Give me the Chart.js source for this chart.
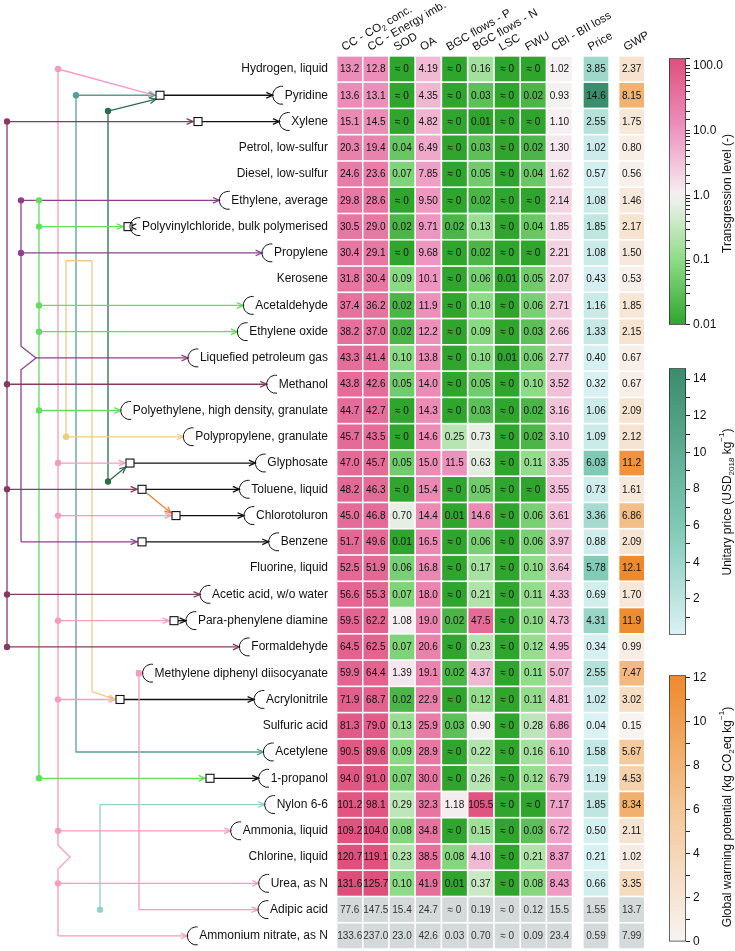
<!DOCTYPE html>
<html>
<head>
<meta charset="utf-8">
<script src="https://cdn.jsdelivr.net/npm/chart.js@4.4.1/dist/chart.umd.min.js"></script>
<style>
  body { margin: 0; background: #fff; }
  #wrap { position: relative; width: 735px; height: 951px; }
  canvas { position: absolute; }
</style>
</head>
<body>
<div id="wrap">
  <canvas id="main" width="735" height="951" style="left:0;top:0"></canvas>
  <canvas id="cbT"></canvas>
  <canvas id="cbP"></canvas>
  <canvas id="cbG"></canvas>
</div>
<script>
// data (0 means "≈ 0")
const products = ['Hydrogen, liquid', 'Pyridine', 'Xylene', 'Petrol, low-sulfur', 'Diesel, low-sulfur',
  'Ethylene, average', 'Polyvinylchloride, bulk polymerised', 'Propylene', 'Kerosene', 'Acetaldehyde',
  'Ethylene oxide', 'Liquefied petroleum gas', 'Methanol', 'Polyethylene, high density, granulate',
  'Polypropylene, granulate', 'Glyphosate', 'Toluene, liquid', 'Chlorotoluron', 'Benzene', 'Fluorine, liquid',
  'Acetic acid, w/o water', 'Para-phenylene diamine', 'Formaldehyde', 'Methylene diphenyl diisocyanate',
  'Acrylonitrile', 'Sulfuric acid', 'Acetylene', '1-propanol', 'Nylon 6-6', 'Ammonia, liquid',
  'Chlorine, liquid', 'Urea, as N', 'Adipic acid', 'Ammonium nitrate, as N']
const columns = ['CC - CO₂ conc.', 'CC - Energy imb.', 'SOD', 'OA', 'BGC flows - P', 'BGC flows - N',
  'LSC', 'FWU', 'CBI - BII loss', 'Price', 'GWP']

const ccCO2 = [13.2, 13.6, 15.1, 20.3, 24.6, 29.8, 30.5, 30.4, 31.8, 37.4, 38.2, 43.3, 43.8, 44.7, 45.7, 47.0,
  48.2, 45.0, 51.7, 52.5, 56.6, 59.5, 64.5, 59.9, 71.9, 81.3, 90.5, 94.0, 101.2, 109.2, 120.7, 131.6, 77.6, 133.6]
const ccEnergy = [12.8, 13.1, 14.5, 19.4, 23.6, 28.6, 29.0, 29.1, 30.4, 36.2, 37.0, 41.4, 42.6, 42.7, 43.5, 45.7,
  46.3, 46.8, 49.6, 51.9, 55.3, 62.2, 62.5, 64.4, 68.7, 79.0, 89.6, 91.0, 98.1, 104.0, 119.1, 125.7, 147.5, 237.0]
const sod = [0, 0, 0, 0.04, 0.07, 0, 0.02, 0, 0.09, 0.02, 0.02, 0.10, 0.05, 0, 0, 0.05,
  0, 0.70, 0.01, 0.06, 0.07, 1.08, 0.07, 1.39, 0.02, 0.13, 0.09, 0.07, 0.29, 0.08, 0.23, 0.10, 15.4, 23.0]
const oa = [4.19, 4.35, 4.82, 6.49, 7.85, 9.50, 9.71, 9.68, 10.1, 11.9, 12.2, 13.8, 14.0, 14.3, 14.6, 15.0,
  15.4, 14.4, 16.5, 16.8, 18.0, 19.0, 20.6, 19.1, 22.9, 25.9, 28.9, 30.0, 32.3, 34.8, 38.5, 41.9, 24.7, 42.6]
const bgcP = [0, 0, 0, 0, 0, 0, 0.02, 0, 0, 0, 0, 0, 0, 0, 0.25, 11.5,
  0, 0.01, 0, 0, 0, 0.02, 0, 0.02, 0, 0.03, 0, 0, 1.18, 0, 0.08, 0.01, 0, 0.03]
const bgcN = [0.16, 0.03, 0.01, 0.03, 0.05, 0.02, 0.13, 0.02, 0.06, 0.10, 0.09, 0.10, 0.05, 0.03, 0.73, 0.63,
  0.05, 14.6, 0.06, 0.17, 0.21, 47.5, 0.23, 4.37, 0.12, 0.90, 0.22, 0.26, 105.5, 0.15, 4.10, 0.37, 0.19, 0.70]
const lsc = [0, 0, 0, 0, 0, 0, 0, 0, 0.01, 0, 0, 0.01, 0, 0, 0, 0,
  0, 0, 0, 0, 0, 0, 0, 0, 0, 0, 0, 0, 0, 0, 0, 0, 0, 0]
const fwu = [0, 0.02, 0, 0.02, 0.04, 0, 0.04, 0, 0.05, 0.06, 0.03, 0.06, 0.10, 0.02, 0.02, 0.11,
  0, 0.06, 0.06, 0.10, 0.11, 0.10, 0.12, 0.11, 0.11, 0.28, 0.16, 0.12, 0, 0.03, 0.21, 0.08, 0.12, 0.09]
const cbi = [1.02, 0.93, 1.10, 1.30, 1.62, 2.14, 1.85, 2.21, 2.07, 2.71, 2.66, 2.77, 3.52, 3.16, 3.10, 3.35,
  3.55, 3.61, 3.97, 3.64, 4.33, 4.73, 4.95, 5.07, 4.81, 6.86, 6.10, 6.79, 7.17, 6.72, 8.37, 8.43, 15.5, 23.4]
const price = [3.85, 14.6, 2.55, 1.02, 0.57, 1.08, 1.85, 1.08, 0.43, 1.16, 1.33, 0.40, 0.32, 1.06, 1.09, 6.03,
  0.73, 3.36, 0.88, 5.78, 0.69, 4.31, 0.34, 2.55, 1.02, 0.04, 1.58, 1.19, 1.85, 0.50, 0.21, 0.66, 1.55, 0.59]
const gwp = [2.37, 8.15, 1.75, 0.80, 0.56, 1.46, 2.17, 1.50, 0.53, 1.85, 2.15, 0.67, 0.67, 2.09, 2.12, 11.2,
  1.61, 6.86, 2.09, 12.1, 1.70, 11.9, 0.99, 7.47, 3.02, 0.15, 5.67, 4.53, 8.34, 2.11, 1.02, 3.35, 13.7, 7.99]
const greyRows = ['Adipic acid', 'Ammonium nitrate, as N']

const transTicks = [0.01, 0.1, 1, 10, 100]
const priceTicks = [2, 4, 6, 8, 10, 12, 14]
const gwpTicks = [0, 2, 4, 6, 8, 10, 12]

const boundaryCols = [ccCO2, ccEnergy, sod, oa, bgcP, bgcN, lsc, fwu, cbi]

// layout
const FONT = '"Liberation Sans", Arial, sans-serif'
const colX = [349.7, 375.8, 402, 428.2, 454.5, 480.8, 507.1, 533.3, 559.4, 596, 631.7]
const cellW = 24
const labelRight = 328
const ringR = 9

// colour maps
function hex(h) { return [1, 3, 5].map(i => parseInt(h.slice(i, i + 2), 16)) }
function ramp(stops, t) {
  t = Math.max(0, Math.min(1, t))
  for (let i = 1; i < stops.length; i++) {
    if (t <= stops[i][0]) {
      const [t0, c0] = stops[i - 1], [t1, c1] = stops[i]
      const f = (t - t0) / (t1 - t0), a = hex(c0), b = hex(c1)
      return 'rgb(' + a.map((v, k) => Math.round(v + (b[k] - v) * f)).join(',') + ')'
    }
  }
  return stops[stops.length - 1][1]
}
const keep = (v, i) => !greyRows.includes(products[i])
const transMin = 0.01
const transMax = Math.max(...boundaryCols.map(c => Math.max(...c.filter(keep))))
const lMin = Math.log10(transMin), lMax = Math.log10(transMax)
const lt = l => (l - lMin) / (lMax - lMin)
const transStops = [[0, '#2fa52d'], [lt(-1), '#8edb87'], [lt(0), '#f6f3f4'], [lt(1), '#ed95c0'], [1, '#df4e7b']]
const transColor = v => ramp(transStops, lt(Math.log10(Math.max(v, transMin))))
const priceMin = Math.min(...price.filter(keep))
const priceMax = Math.max(...price.filter(keep))
const priceStops = [[0, '#dbf2f4'], [0.4, '#80cab6'], [1, '#3a8d6d']]
const priceColor = v => ramp(priceStops, (v - priceMin) / (priceMax - priceMin))
const gwpMax = Math.max(...gwp.filter(keep))
const gwpStops = [[0, '#f7f4f2'], [0.5, '#f4c797'], [1, '#ee8a2c']]
const gwpColor = v => ramp(gwpStops, v / gwpMax)

function fmt(v) { return v === 0 ? '≈ 0' : (v >= 10 ? v.toFixed(1) : v.toFixed(2)) }

// supply network: x = lane position, y = row index; 'L' = ring in front of that row's label
const C = { pink: '#f59bbf', teal: '#55a096', lteal: '#93d3c7', dgreen: '#2e6a4e', purple: '#8d3f8d',
  maroon: '#873a5f', lgreen: '#62dd5e', tan: '#eecb85', orange: '#f07f3c', black: '#111' }
const boxes = { 1: 160, 2: 198, 6: 128, 15: 130, 16: 142, 17: 176, 18: 142, 21: 174, 24: 120, 27: 210 }
const B = r => boxes[r] - 5
const links = [
  { c: C.maroon, p: [[7, 2], [7, 22]] },
  { c: C.maroon, p: [[7, 2], [B(2), 2]], arrow: true },
  { c: C.maroon, p: [[7, 12], ['L', 12]], arrow: true },
  { c: C.maroon, p: [[7, 16], [B(16), 16]], arrow: true },
  { c: C.maroon, p: [[7, 20], ['L', 20]], arrow: true },
  { c: C.maroon, p: [[7, 22], ['L', 22]], arrow: true },
  { c: C.purple, p: [[21, 5], [21, 10.55], [36, 11], [21, 11.45], [21, 18]] },
  { c: C.purple, p: [[21, 5], ['L', 5]], arrow: true },
  { c: C.purple, p: [[21, 7], ['L', 7]], arrow: true },
  { c: C.purple, p: [[21, 18], [B(18), 18]], arrow: true },
  { c: C.purple, p: [[36, 11], ['L', 11]], arrow: true },
  { c: C.lgreen, p: [[39, 5], [39, 27]] },
  { c: C.lgreen, p: [[39, 6], [B(6), 6]], arrow: true },
  { c: C.lgreen, p: [[39, 9], ['L', 9]], arrow: true },
  { c: C.lgreen, p: [[39, 10], ['L', 10]], arrow: true },
  { c: C.lgreen, p: [[39, 13], ['L', 13]], arrow: true },
  { c: C.lgreen, p: [[39, 27], [B(27), 27]], arrow: true },
  { c: C.pink, p: [[58, 0], [58, 29.55], [70, 30], [58, 30.45], [58, 33]] },
  { c: C.pink, p: [[58, 0], [B(1), 1]], arrow: true },
  { c: C.pink, p: [[58, 15], [B(15), 15]], arrow: true },
  { c: C.pink, p: [[58, 17], [B(17), 17]], arrow: true },
  { c: C.pink, p: [[58, 21], [B(21), 21]], arrow: true },
  { c: C.pink, p: [[58, 24], [B(24), 24]], arrow: true },
  { c: C.pink, p: [[58, 29], ['L', 29]], arrow: true },
  { c: C.pink, p: [[58, 31], ['L', 31]], arrow: true },
  { c: C.pink, p: [[58, 33], ['L', 33]], arrow: true },
  { c: C.pink, p: [[139, 23], [139, 32]] },
  { c: C.pink, p: [[139, 23], ['L', 23]], arrow: true },
  { c: C.pink, p: [[139, 32], ['L', 32]], arrow: true },
  { c: C.tan, p: [[92, 7.3], [66, 7.3], [66, 14], ['L', 14]], arrow: true },
  { c: C.tan, p: [[92, 7.3], [92, 23.7], [B(24), 24]], arrow: true },
  { c: C.teal, p: [[76, 1], [B(1), 1]], arrow: true },
  { c: C.teal, p: [[76, 1], [76, 26], ['L', 26]], arrow: true },
  { c: C.dgreen, p: [[108, 1.6], [108, 15.7]] },
  { c: C.dgreen, p: [[108, 1.6], [B(1) + 1, 1.15]], arrow: true },
  { c: C.dgreen, p: [[108, 15.7], [B(15) + 1, 15.15]], arrow: true },
  { c: C.orange, p: [[147, 16.15], [B(17), 16.9]], arrow: true },
  { c: C.lteal, p: [[100, 32], [100, 28], ['L', 28]], arrow: true },
  ...Object.keys(boxes).map(r => ({ c: C.black, p: [[boxes[r] + 4, +r], ['L', +r]], arrow: true }))
]
const dots = [[7, 2, C.maroon], [7, 12, C.maroon], [7, 16, C.maroon], [7, 20, C.maroon], [7, 22, C.maroon],
  [21, 5, C.purple], [21, 7, C.purple], [39, 5, C.lgreen], [39, 6, C.lgreen], [39, 9, C.lgreen],
  [39, 10, C.lgreen], [39, 13, C.lgreen], [39, 27, C.lgreen], [58, 0, C.pink], [58, 15, C.pink],
  [58, 17, C.pink], [58, 21, C.pink], [58, 24, C.pink], [58, 29, C.pink], [58, 31, C.pink], [139, 23, C.pink],
  [66, 14, C.tan], [76, 1, C.teal], [108, 1.6, C.dgreen], [108, 15.7, C.dgreen], [100, 32, C.lteal]]
const ringRows = ['Pyridine', 'Xylene', 'Ethylene, average', 'Polyvinylchloride, bulk polymerised', 'Propylene',
  'Acetaldehyde', 'Ethylene oxide', 'Liquefied petroleum gas', 'Methanol', 'Polyethylene, high density, granulate',
  'Polypropylene, granulate', 'Glyphosate', 'Toluene, liquid', 'Chlorotoluron', 'Benzene', 'Acetic acid, w/o water',
  'Para-phenylene diamine', 'Formaldehyde', 'Methylene diphenyl diisocyanate', 'Acrylonitrile', 'Acetylene',
  '1-propanol', 'Nylon 6-6', 'Ammonia, liquid', 'Urea, as N', 'Adipic acid', 'Ammonium nitrate, as N']

// ring centre for each labelled row, from the label width
const mctx = document.createElement('canvas').getContext('2d')
mctx.font = '12px ' + FONT
const ringX = products.map(p => labelRight - mctx.measureText(p).width - 3)
const resolve = ([x, r]) => [x === 'L' ? ringX[r] - ringR : x, r]

// heat map cells as floating bars
const allCols = [...boundaryCols, price, gwp]
const cellSets = allCols.map((vals, c) => ({
  type: 'bar',
  data: vals.map((v, i) => ({ y: i, x: [colX[c] - cellW / 2, colX[c] + cellW / 2] })),
  backgroundColor: vals.map((v, i) => greyRows.includes(products[i]) ? '#d4d9d9'
    : c < 9 ? transColor(v) : c === 9 ? priceColor(v) : gwpColor(v)),
  barThickness: 24,
  grouped: false,
  order: 1
}))
const lineSets = links.map(l => ({
  type: 'line',
  data: l.p.map(resolve).map(([x, r]) => ({ x, y: r })),
  borderColor: l.c,
  borderWidth: 1.3,
  pointRadius: 0,
  fill: false,
  tension: 0,
  order: 2
}))

const overlay = {
  id: 'overlay',
  afterDatasetsDraw(chart) {
    const { ctx, scales: { x, y } } = chart
    ctx.save()
    links.forEach(l => {
      if (!l.arrow) return
      const [a, b] = l.p.slice(-2).map(resolve)
      const x1 = x.getPixelForValue(a[0]), y1 = y.getPixelForValue(a[1])
      const x2 = x.getPixelForValue(b[0]), y2 = y.getPixelForValue(b[1])
      const ang = Math.atan2(y2 - y1, x2 - x1)
      ctx.strokeStyle = l.c; ctx.lineWidth = 1.3
      ctx.beginPath()
      ctx.moveTo(x2 - 7 * Math.cos(ang - 0.42), y2 - 7 * Math.sin(ang - 0.42))
      ctx.lineTo(x2, y2)
      ctx.lineTo(x2 - 7 * Math.cos(ang + 0.42), y2 - 7 * Math.sin(ang + 0.42))
      ctx.stroke()
    })
    dots.forEach(([dx, r, c]) => {
      ctx.fillStyle = c
      ctx.beginPath(); ctx.arc(x.getPixelForValue(dx), y.getPixelForValue(r), 3.2, 0, Math.PI * 2); ctx.fill()
    })
    Object.keys(boxes).forEach(r => {
      const px = x.getPixelForValue(boxes[r]), py = y.getPixelForValue(+r)
      ctx.fillStyle = '#fff'; ctx.strokeStyle = '#111'; ctx.lineWidth = 1.1
      ctx.fillRect(px - 4, py - 4, 8, 8); ctx.strokeRect(px - 4, py - 4, 8, 8)
    })
    // row labels and rings (right half hidden behind the label box)
    ctx.font = '12px ' + FONT
    ctx.textAlign = 'right'; ctx.textBaseline = 'middle'
    products.forEach((p, i) => {
      const py = y.getPixelForValue(i)
      if (ringRows.includes(p)) {
        ctx.strokeStyle = '#111'; ctx.lineWidth = 1
        ctx.beginPath(); ctx.arc(x.getPixelForValue(ringX[i]), py, ringR, Math.PI * 0.45, Math.PI * 1.55); ctx.stroke()
      }
      ctx.fillStyle = '#111'
      ctx.fillText(p, x.getPixelForValue(labelRight), py)
    })
    // cell values
    ctx.font = '10px ' + FONT
    ctx.textAlign = 'center'
    allCols.forEach((vals, c) => {
      vals.forEach((v, i) => {
        ctx.fillStyle = greyRows.includes(products[i]) ? '#333' : '#111'
        ctx.fillText(fmt(v), x.getPixelForValue(colX[c]), y.getPixelForValue(i) + 0.5)
      })
    })
    // column headers
    const hf = '11.5px ' + FONT
    ctx.textAlign = 'left'; ctx.textBaseline = 'alphabetic'; ctx.fillStyle = '#111'
    columns.forEach((name, c) => {
      ctx.save()
      ctx.translate(x.getPixelForValue(colX[c]) - 5.5, 51)
      ctx.rotate(-Math.PI / 6)
      ctx.font = hf
      if (name.includes('₂')) {
        const [a, b] = name.split('₂')
        ctx.fillText(a, 0, 0)
        const w = ctx.measureText(a).width
        ctx.font = '8px ' + FONT
        ctx.fillText('2', w, 3)
        const w2 = ctx.measureText('2').width
        ctx.font = hf
        ctx.fillText(b, w + w2, 0)
      } else ctx.fillText(name, 0, 0)
      ctx.restore()
    })
    ctx.restore()
  }
}

new Chart(document.getElementById('main'), {
  type: 'bar',
  data: { datasets: [...lineSets, ...cellSets] },
  options: {
    indexAxis: 'y',
    responsive: false,
    animation: false,
    events: [],
    layout: { padding: 0 },
    plugins: { legend: { display: false }, tooltip: { enabled: false } },
    scales: {
      x: { type: 'linear', min: 0, max: 735, display: false },
      y: { type: 'linear', min: -69 / 26.27, max: (951 - 69) / 26.27, reverse: true, offset: false, display: false }
    }
  },
  plugins: [overlay]
})

// colour bars
function richTitle(ctx, parts, cx, cy) {
  ctx.save()
  ctx.translate(cx, cy); ctx.rotate(-Math.PI / 2)
  ctx.fillStyle = '#111'; ctx.textBaseline = 'alphabetic'; ctx.textAlign = 'left'
  let total = 0
  parts.forEach(([t, k]) => { ctx.font = (k ? '8px ' : '12px ') + FONT; total += ctx.measureText(t).width })
  let px = -total / 2
  parts.forEach(([t, k]) => {
    ctx.font = (k ? '8px ' : '12px ') + FONT
    ctx.fillText(t, px, k === 'sub' ? 3 : k === 'sup' ? -7 : 0)
    px += ctx.measureText(t).width
  })
  ctx.restore()
}

function colorBar(id, top, bottom, scaleOpts, colorFn, lo, hi, log, title, titleY) {
  const el = document.getElementById(id)
  const padT = 8, padB = 8
  el.width = 66; el.height = Math.round(bottom - top + padT + padB)
  el.style.left = '669px'; el.style.top = (top - padT) + 'px'
  new Chart(el, {
    type: 'bar',
    data: {
      labels: [''],
      datasets: [{
        data: [[lo, hi]],
        backgroundColor(c) {
          const a = c.chart.chartArea
          if (!a) return null
          const g = c.chart.ctx.createLinearGradient(0, a.bottom, 0, a.top)
          for (let k = 0; k <= 24; k++) {
            const f = k / 24
            const v = log ? Math.pow(10, Math.log10(lo) + f * (Math.log10(hi) - Math.log10(lo))) : lo + f * (hi - lo)
            g.addColorStop(f, colorFn(v))
          }
          return g
        },
        borderColor: '#222', borderWidth: 1, borderSkipped: false,
        barPercentage: 1, categoryPercentage: 1
      }]
    },
    options: {
      responsive: false, animation: false, events: [],
      layout: { padding: { top: padT, bottom: padB, left: 0, right: 0 } },
      plugins: { legend: { display: false }, tooltip: { enabled: false } },
      scales: {
        x: { display: false },
        y: Object.assign({
          position: 'right', min: lo, max: hi,
          border: { display: false },
          grid: { drawOnChartArea: false, drawTicks: true, tickLength: 4, color: '#222' },
          afterFit(s) { s.width = 49 }
        }, scaleOpts)
      }
    },
    plugins: [{
      id: 'cbTitle',
      afterDraw(chart) {
        richTitle(chart.ctx, title, 731 - 669, titleY - (top - padT))
      }
    }]
  })
}

colorBar('cbT', 55.5, 326.7, {
  type: 'logarithmic',
  ticks: {
    color: '#111', font: { size: 12, family: FONT }, padding: 3, autoSkip: false,
    callback: v => transTicks.includes(v) ? (v >= 1 ? v.toFixed(1) : String(v)) : ''
  }
}, transColor, transMin, transMax, true, [['Transgression level (-)']], 193)

colorBar('cbP', 366, 637, {
  type: 'linear',
  ticks: {
    color: '#111', font: { size: 12, family: FONT }, padding: 3, stepSize: 1, includeBounds: false, autoSkip: false,
    callback: v => priceTicks.includes(v) ? String(v) : ''
  }
}, priceColor, priceMin, priceMax, false,
  [['Unitary price (USD'], ['2018', 'sub'], [' kg'], ['−1', 'sup'], [')']], 502)

colorBar('cbG', 673, 944, {
  type: 'linear',
  ticks: {
    color: '#111', font: { size: 12, family: FONT }, padding: 3, stepSize: 1, includeBounds: false, autoSkip: false,
    callback: v => gwpTicks.includes(v) ? String(v) : ''
  }
}, gwpColor, 0, gwpMax, false,
  [['Global warming potential (kg CO'], ['2', 'sub'], ['eq kg'], ['−1', 'sup'], [')']], 817)
</script>
</body>
</html>
